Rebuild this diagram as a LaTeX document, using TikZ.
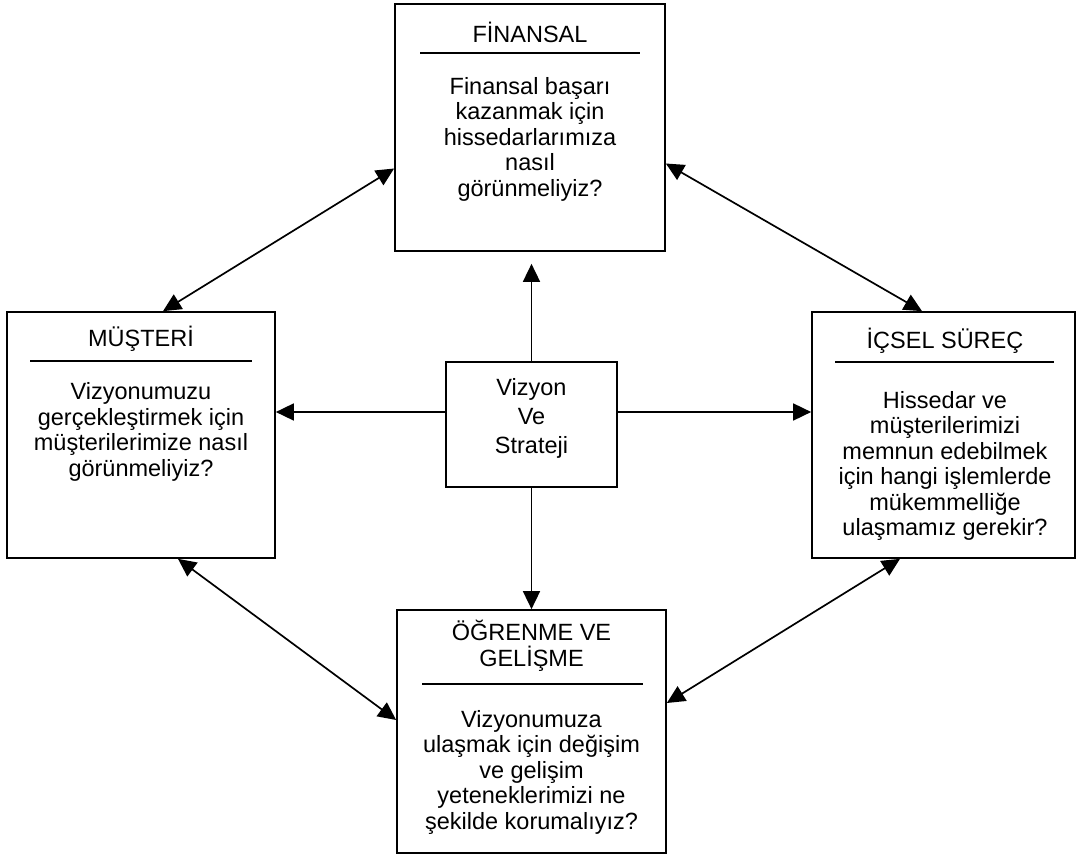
\documentclass[tikz,border=0pt]{standalone}
\usepackage{fontspec}
\setmainfont{Liberation Sans}
\usetikzlibrary{arrows.meta}
\begin{document}
\begin{tikzpicture}[x=1pt,y=-1pt,
  box/.style={draw,line width=1.7pt,inner sep=0pt},
  txt/.style={align=center,font=\fontsize{23.5}{25.5}\selectfont,inner sep=0pt},
  rule/.style={line width=1.5pt},
  link/.style={line width=1.7pt,{Triangle[length=18pt,width=17pt]}-{Triangle[length=18pt,width=17pt]}},
  arr/.style={line width=1.7pt,-{Triangle[length=18pt,width=17pt]}}]
\useasboundingbox (0,0) rectangle (1076,858);

% the five boxes
\node[box,minimum width=270pt,minimum height=247pt] (F) at (530,127.5) {};
\node[box,minimum width=268pt,minimum height=246pt] (M) at (141,435) {};
\node[box,minimum width=263pt,minimum height=246pt] (I) at (943.5,435) {};
\node[box,minimum width=269pt,minimum height=243pt] (O) at (531.5,731.5) {};
\node[box,minimum width=171pt,minimum height=125pt] (V) at (531.5,424.5) {};

% headings and rules
\node[txt] (Ft) at (530,32) {FİNANSAL};
\draw[rule] (420,53) -- (640,53);
\node[txt] (Mt) at (141,339) {MÜŞTERİ};
\draw[rule] (30,361) -- (252,361);
\node[txt] (It) at (945,341) {İÇSEL SÜREÇ};
\draw[rule] (835,362) -- (1054,362);
\node[txt] (Ot) at (531.5,646) {ÖĞRENME VE\\GELİŞME};
\draw[rule] (422,684) -- (643,684);

% questions
\node[txt] (Fb) at (530,139) {Finansal başarı\\kazanmak için\\hissedarlarımıza\\nasıl\\görünmeliyiz?};
\node[txt] (Mb) at (141,432) {Vizyonumuzu\\gerçekleştirmek için\\müşterilerimize nasıl\\görünmeliyiz?};
\node[txt] (Ib) at (945,466) {Hissedar ve\\müşterilerimizi\\memnun edebilmek\\için hangi işlemlerde\\mükemmelliğe\\ulaşmamız gerekir?};
\node[txt] (Ob) at (531.5,772) {Vizyonumuza\\ulaşmak için değişim\\ve gelişim\\yeteneklerimizi ne\\şekilde korumalıyız?};
\node[txt,font=\fontsize{23.5}{29}\selectfont] (Vb) at (531.5,418) {Vizyon\\Ve\\Strateji};

% arrows from the centre
\draw[arr] (V.north) -- ([yshift=-12pt]V.north |- F.south);
\draw[arr] (V.south) -- (V.south |- O.north);
\draw[arr] ([yshift=12.5pt]V.west) -- ([yshift=12.5pt]V.west -| M.east);
\draw[arr] ([yshift=12.5pt]V.east) -- ([yshift=12.5pt]V.east -| I.west);

% links between the perspectives
\draw[link] ([yshift=-41pt]F.west) -- ([xshift=22pt]M.north);
\draw[link] ([yshift=-36pt]F.east) -- ([xshift=-21.5pt]I.north);
\draw[link] ([xshift=37pt]M.south) -- ([yshift=11.5pt]O.west);
\draw[link] ([xshift=-43.5pt]I.south) -- ([yshift=28.5pt]O.east);
\end{tikzpicture}
\end{document}
